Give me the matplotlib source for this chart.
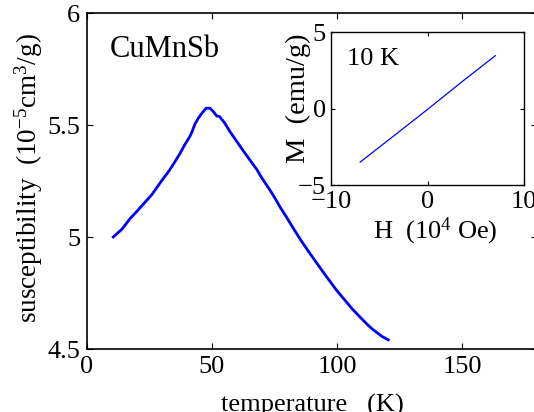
import numpy as np
import matplotlib
matplotlib.use("Agg")
import matplotlib.pyplot as plt

plt.rcParams["font.family"] = ["Liberation Serif", "DejaVu Serif"]
plt.rcParams["mathtext.fontset"] = "custom"
plt.rcParams["mathtext.rm"] = "Liberation Serif"
plt.rcParams["mathtext.it"] = "Liberation Serif:italic"

# susceptibility vs temperature (CuMnSb)
temp = [10.5, 12, 14, 17.2, 20, 23.9, 26, 28, 30.5, 33, 35, 37.2, 39, 41.2, 42,
        43.2, 44.5, 46, 47.6, 49.2, 50.5, 51.9, 53, 55, 57.2, 60, 62.5, 65.2, 68,
        70, 71.9, 74, 75.9, 77.2, 80, 83, 86, 89.2, 92, 95, 97.5, 99.9, 103, 106,
        109, 111.9, 114, 116, 118, 120.5]
chi = [5.000, 5.015, 5.035, 5.082, 5.115, 5.164, 5.190, 5.222, 5.261, 5.298,
       5.333, 5.373, 5.410, 5.450, 5.470, 5.505, 5.530, 5.553, 5.575, 5.575,
       5.560, 5.540, 5.538, 5.510, 5.470, 5.425, 5.385, 5.343, 5.300, 5.262,
       5.231, 5.195, 5.160, 5.134, 5.085, 5.030, 4.978, 4.926, 4.882, 4.835,
       4.797, 4.761, 4.720, 4.680, 4.645, 4.612, 4.590, 4.573, 4.556, 4.541]

# inset: M vs H at 10 K
field = [-7.0, -3.5, 0.0, 3.5, 7.05]
magn = [-3.5, -1.78, -0.05, 1.72, 3.47]

W, H = 534, 412
fig = plt.figure(figsize=(W / 100, H / 100), dpi=100)

def box(l, r, t, b):
    return [l / W, 1 - b / H, (r - l) / W, (b - t) / H]

fs = 19
ax = fig.add_axes(box(87, 537, 13, 349))
ax.plot(temp, chi, color="#0000ff", lw=2.0)
ax.set_xlim(0, 180)
ax.set_ylim(4.5, 6)
ax.set_xticks([0, 50, 100, 150])
ax.set_yticks([4.5, 5, 5.5, 6])
ax.set_yticklabels(["4.5", "5", "5.5", "6"])
ax.tick_params(direction="in", top=True, right=True, length=4, width=0.8,
               labelsize=fs, pad=5)
for s in ax.spines.values():
    s.set_linewidth(1.2)
ax.set_xlabel("temperature   (K)", fontsize=fs)
ax.xaxis.set_label_coords(0.5, -0.135)
ax.xaxis.label.set_va("top")
ax.set_ylabel("susceptibility  (10$^{-5}$cm$^3$/g)", fontsize=19.5)
ax.yaxis.set_label_coords(-0.093, 0.51)
ax.text(110 / W, 1 - 57 / H, "CuMnSb", transform=fig.transFigure,
        fontsize=22, va="baseline", ha="left")

ins = fig.add_axes(box(331.3, 523.7, 32.3, 185))
ins.plot(field, magn, color="#0000ff", lw=0.9)
ins.set_xlim(-10, 10)
ins.set_ylim(-5, 5)
ins.set_xticks([-10, 0, 10])
ins.set_yticks([-5, 0, 5])
ins.tick_params(direction="in", top=True, right=True, length=3, width=0.8,
                labelsize=fs, pad=4)
for s in ins.spines.values():
    s.set_linewidth(1.0)
ins.set_xlabel("H  (10$^4$ Oe)", fontsize=fs)
ins.xaxis.set_label_coords(0.539, -0.2)
ins.xaxis.label.set_va("top")
ins.set_ylabel("M  (emu/g)", fontsize=20.5)
ins.yaxis.set_label_coords(-0.105, 0.57)
ins.text(346.7 / W, 1 - 65 / H, "10 K", transform=fig.transFigure,
         fontsize=19, va="baseline", ha="left")

fig.savefig("out.png", dpi=100)
